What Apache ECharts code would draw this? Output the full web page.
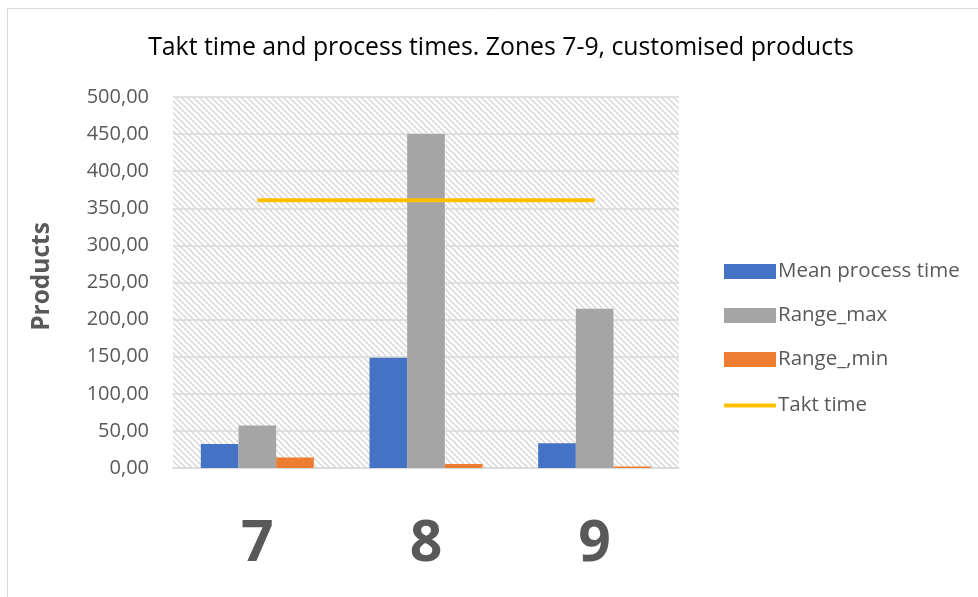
<!DOCTYPE html>
<html>
<head>
<meta charset="utf-8">
<script src="https://cdn.jsdelivr.net/npm/echarts@6/dist/echarts.min.js"></script>
<style>
  html, body { margin: 0; padding: 0; background: #fff; }
  #chart { width: 978px; height: 597px; }
</style>
</head>
<body>
<div id="chart"></div>
<script>
// Zones and their measured times
const zones = ['7', '8', '9'];
const meanProcessTime = [32.3, 148.5, 33.4];
const rangeMax = [57.2, 450, 214.7];
const rangeMin = [14.1, 5.4, 2.0];
const taktTime = [361, 361, 361];
const yTicks = { min: 0, max: 500, interval: 50 };

// Diagonal hatch fill for the plot background
function hatchPattern() {
  const c = document.createElement('canvas');
  c.width = 6; c.height = 6;
  const g = c.getContext('2d');
  g.fillStyle = '#ffffff';
  g.fillRect(0, 0, 6, 6);
  g.strokeStyle = '#dcdcdc';
  g.lineWidth = 1.6;
  g.beginPath();
  g.moveTo(-1, -1); g.lineTo(7, 7);
  g.moveTo(-4, 2); g.lineTo(4, 10);
  g.moveTo(2, -4); g.lineTo(10, 4);
  g.stroke();
  return c;
}

const font = '"Open Sans", "Noto Sans", sans-serif';
const legendText = { fontFamily: font, fontSize: 20.5, color: '#595959', padding: [0, 0, 0, -3] };
const chart = echarts.init(document.getElementById('chart'), null, { renderer: 'canvas' });

chart.setOption({
  backgroundColor: '#ffffff',
  animation: false,
  title: {
    text: 'Takt time and process times. Zones 7-9, customised products',
    left: 496, top: 30, textAlign: 'center',
    textStyle: { fontFamily: font, fontSize: 24.8, fontWeight: 'normal', color: '#000000' }
  },
  graphic: [{
    type: 'rect', silent: true,
    shape: { x: 7.5, y: 8.5, width: 990, height: 620 },
    style: { fill: 'none', stroke: '#d9d9d9', lineWidth: 1 }
  }],
  legend: [{
    orient: 'vertical',
    left: 719, top: 256,
    itemWidth: 52, itemHeight: 15, itemGap: 23,
    textStyle: legendText,
    data: [
      { name: 'Mean process time', icon: 'rect' },
      { name: 'Range_max', icon: 'rect' },
      { name: 'Range_,min', icon: 'rect' }
    ]
  }, {
    orient: 'vertical',
    left: 719, top: 390,
    itemWidth: 52, itemHeight: 4,
    textStyle: legendText,
    data: [{ name: 'Takt time', icon: 'roundRect' }]
  }],
  grid: {
    left: 173, right: 299, top: 97, bottom: 129,
    show: true, borderWidth: 0,
    backgroundColor: { image: hatchPattern(), repeat: 'repeat' }
  },
  xAxis: {
    type: 'category', data: zones,
    axisLine: { lineStyle: { color: '#d9d9d9', width: 1.5 } },
    axisTick: { show: false },
    axisLabel: { fontFamily: font, fontSize: 57, fontWeight: 'bold', color: '#595959', margin: 48 }
  },
  yAxis: {
    type: 'value', min: yTicks.min, max: yTicks.max, interval: yTicks.interval,
    name: 'Products', nameLocation: 'middle', nameGap: 118,
    nameTextStyle: { fontFamily: font, fontSize: 24.5, fontWeight: 'bold', color: '#595959', padding: [0, 0, 0, 12] },
    axisLine: { show: false }, axisTick: { show: false },
    splitLine: { lineStyle: { color: '#d9d9d9', width: 1.5 } },
    axisLabel: {
      fontFamily: font, fontSize: 20, color: '#595959', margin: 24,
      formatter: v => v.toFixed(2).replace('.', ',')
    }
  },
  series: [
    { name: 'Mean process time', type: 'bar', data: meanProcessTime, barGap: '0%', barCategoryGap: '33%',
      itemStyle: { color: '#4472c4' } },
    { name: 'Range_max', type: 'bar', data: rangeMax, barGap: '0%', barCategoryGap: '33%',
      itemStyle: { color: '#a5a5a5' } },
    { name: 'Range_,min', type: 'bar', data: rangeMin, barGap: '0%', barCategoryGap: '33%',
      itemStyle: { color: '#ed7d31' } },
    { name: 'Takt time', type: 'line', data: taktTime, symbol: 'none',
      lineStyle: { color: '#ffc000', width: 4 }, itemStyle: { color: '#ffc000' }, z: 5 }
  ]
});
</script>
</body>
</html>
